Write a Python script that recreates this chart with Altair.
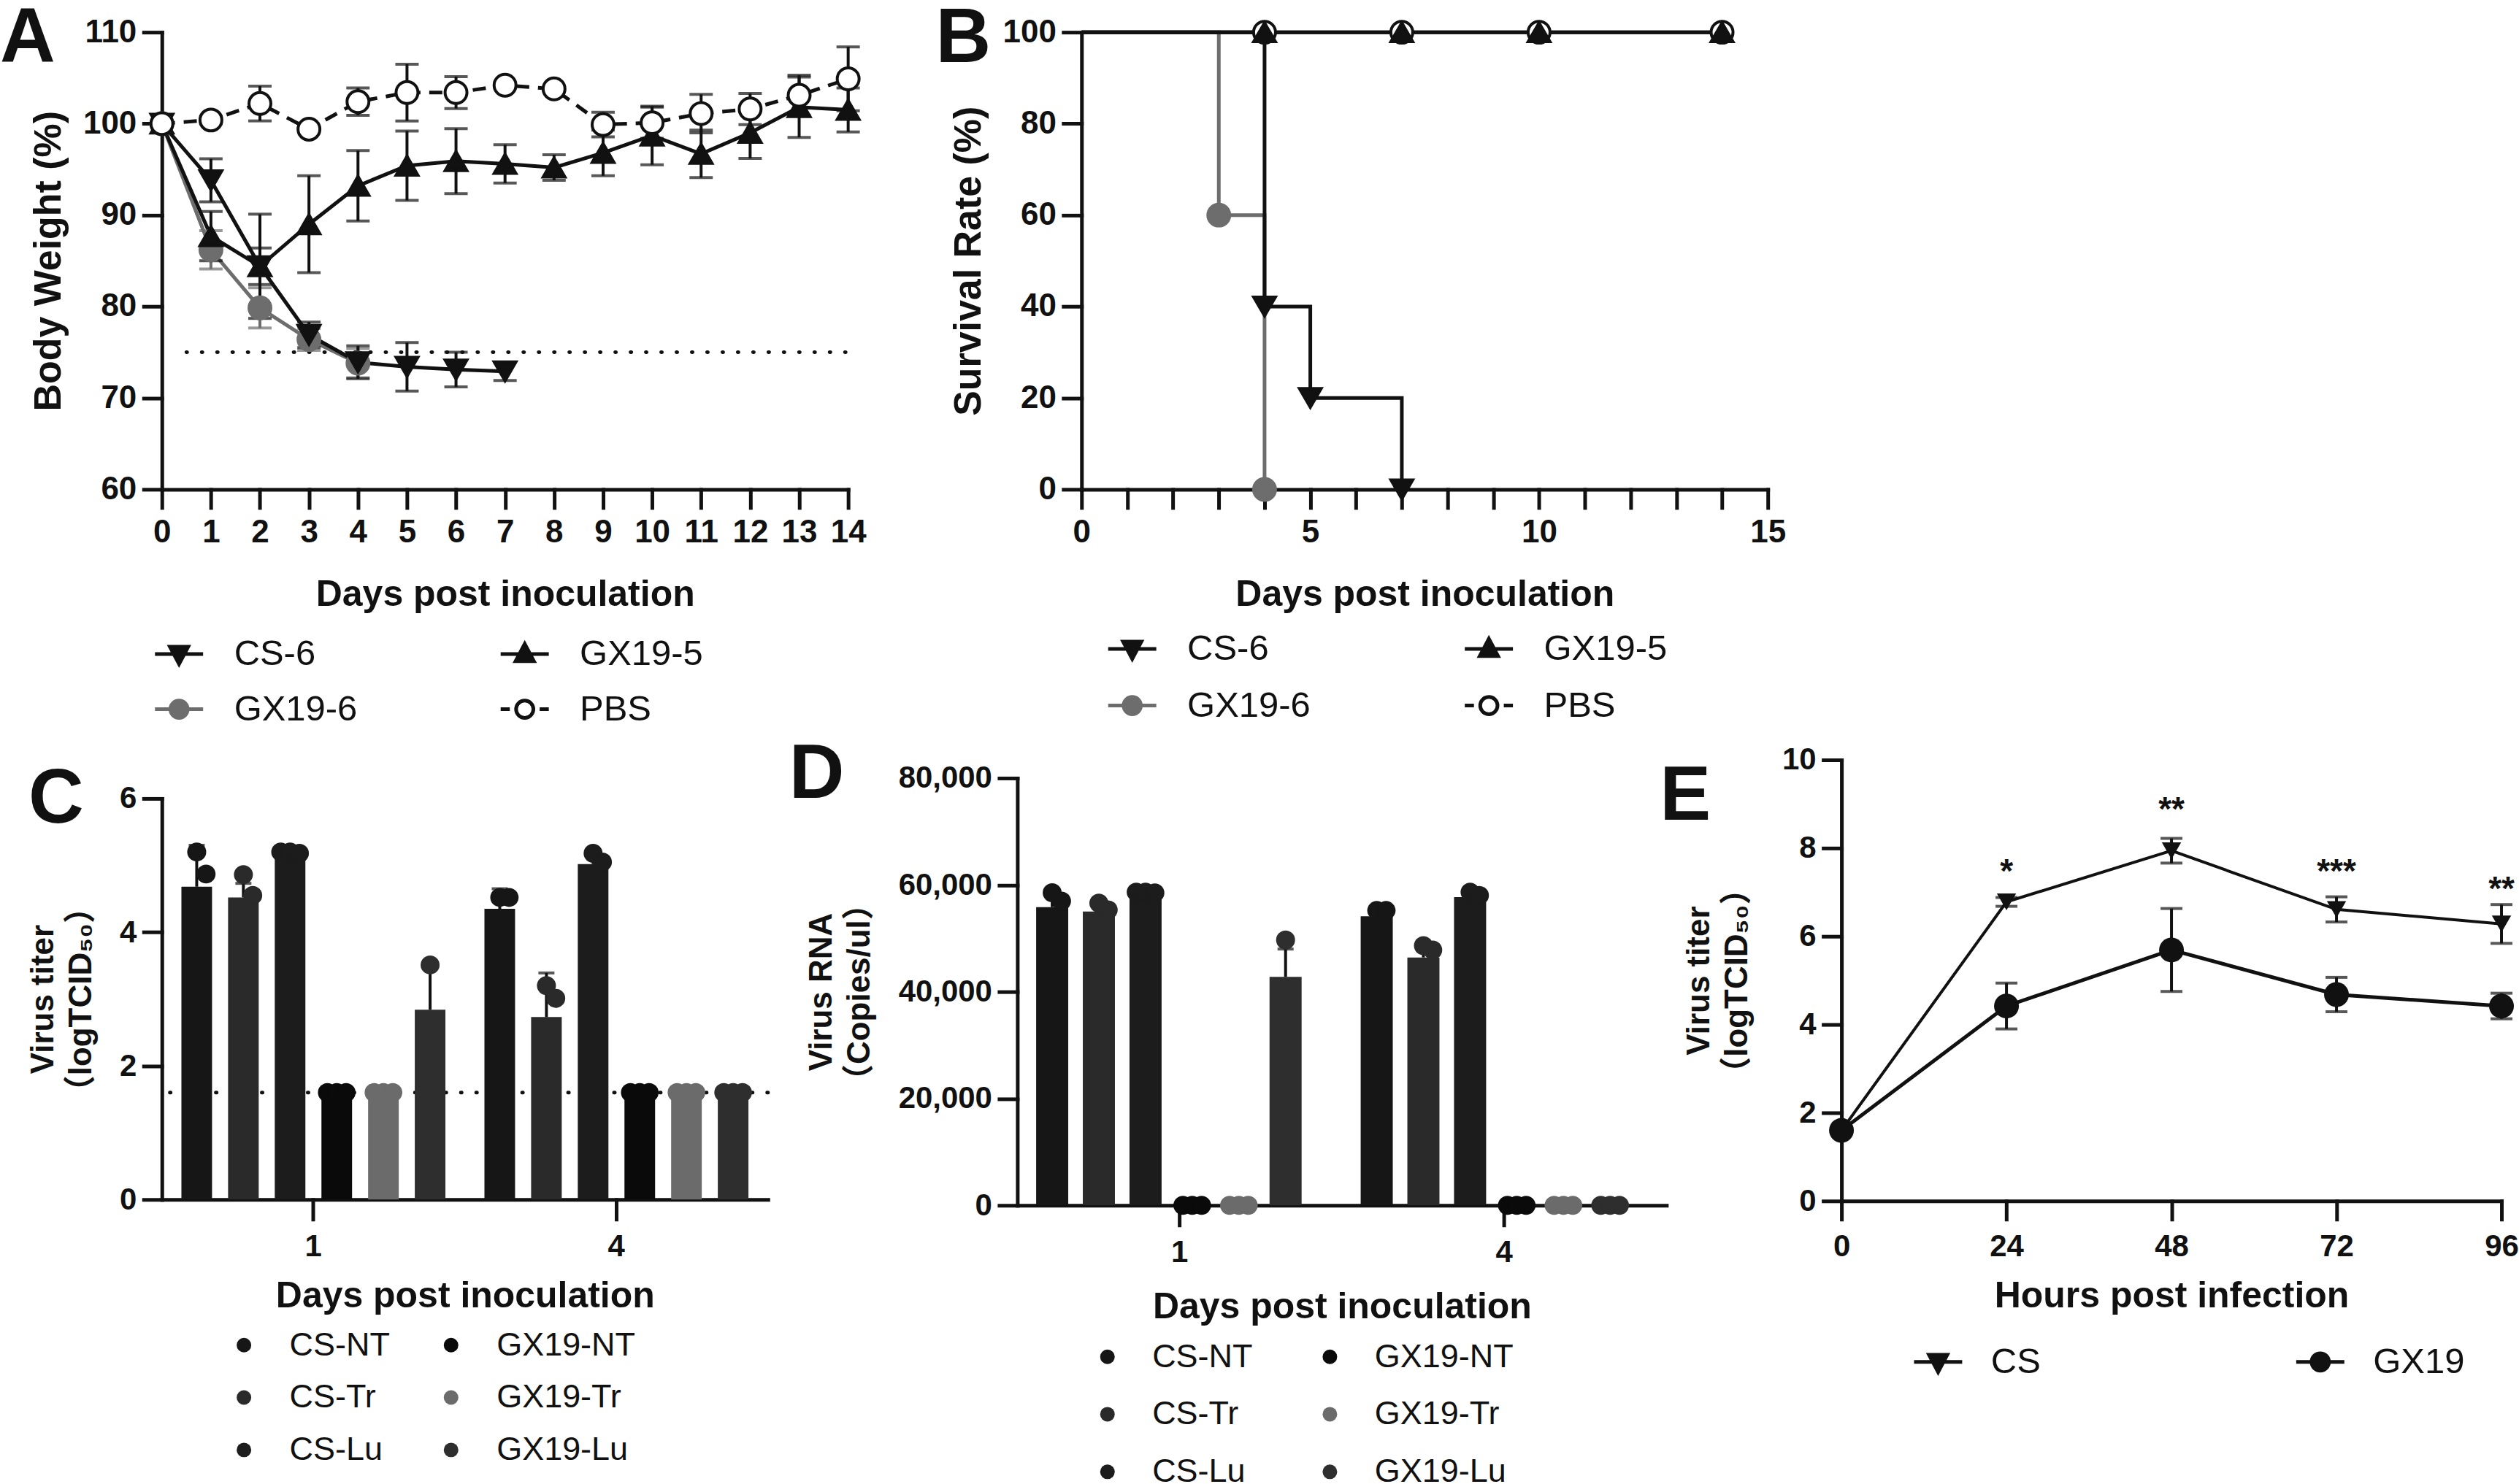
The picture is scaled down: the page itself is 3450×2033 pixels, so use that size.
import altair as alt
import pandas as pd

INK = "#111111"
GREY = "#6d6d6d"
FONT = "Liberation Sans"
TITLE_FONT = "Liberation Sans, Noto Sans CJK SC, DejaVu Sans"

# ---------------- A: body weight (% of day 0), mean and SD ----------------
CS6_WEIGHT = [100, 93.8, 84.4, 76.9, 73.9, 73.4, 73.1, 72.9]
CS6_WEIGHT_SD = [0, 2.35, 2.0, 1.4, 1.8, 2.65, 1.9, 1.0]
GX196_WEIGHT = [100, 86.2, 79.85, 76.4, 73.8]
GX196_WEIGHT_SD = [0, 2.1, 2.2, 1.2, 1.6]
GX195_WEIGHT = [100, 87.7, 84.4, 89.0, 93.2, 95.4, 95.9, 95.6, 95.2, 96.8, 98.7, 96.7, 99.0, 101.8, 101.5]
GX195_WEIGHT_SD = [0, 2.7, 5.7, 5.3, 3.85, 3.8, 3.55, 2.1, 1.4, 2.5, 3.2, 2.6, 2.8, 3.3, 2.4]
PBS_WEIGHT = [100, 100.4, 102.2, 99.4, 102.4, 103.4, 103.4, 104.2, 103.8, 99.9, 100.1, 101.1, 101.6, 103.1, 104.9]
PBS_WEIGHT_SD = [0, 0.4, 1.9, 0.3, 1.5, 3.1, 1.75, 0.3, 0.3, 1.35, 1.7, 2.1, 1.7, 2.2, 3.5]
WEIGHT_CUTOFF = 75
CUTOFF_DAYS = [0.5, 14]

# ---------------- B: survival (Kaplan-Meier steps) ----------------
CS6_SURV_DAYS = [0, 4, 5, 7]
CS6_SURV = [100, 40, 20, 0]
GX196_SURV_DAYS = [0, 3, 4]
GX196_SURV = [100, 60, 0]
GX195_SURV_DAYS = [0, 4, 7, 10, 14]
GX195_SURV = [100, 100, 100, 100, 100]
PBS_SURV_DAYS = [0, 4, 7, 10, 14]
PBS_SURV = [100, 100, 100, 100, 100]

SERIES = ["CS-6", "GX19-6", "GX19-5", "PBS"]
LEGEND_ORDER = ["CS-6", "GX19-5", "GX19-6", "PBS"]

# ---------------- C / D: tissue titres and RNA ----------------
TISSUE_DAYS = ["1", "4"]
TISSUE_GROUPS = ["CS-NT", "CS-Tr", "CS-Lu", "GX19-NT", "GX19-Tr", "GX19-Lu"]
TISSUE_LEGEND = ["CS-NT", "GX19-NT", "CS-Tr", "GX19-Tr", "CS-Lu", "GX19-Lu"]
TISSUE_COLORS = {"CS-NT": "#161616", "CS-Tr": "#2a2a2a", "CS-Lu": "#1c1c1c",
                 "GX19-NT": "#0a0a0a", "GX19-Tr": "#6b6b6b", "GX19-Lu": "#2e2e2e"}

TITER_MEAN = [[4.68, 4.52, 5.14, 1.6, 1.6, 2.84], [4.35, 2.73, 5.02, 1.6, 1.6, 1.6]]
TITER_SD = [[0.62, 0.21, 0.06, 0, 0, 0.62], [0.30, 0.66, 0.14, 0, 0, 0]]
TITER_POINTS = [
    [[5.20, 4.87], [4.86, 4.55], [5.20, 5.20, 5.18], [1.6, 1.6, 1.6], [1.6, 1.6, 1.6], [3.51]],
    [[4.52, 4.52], [3.20, 3.01], [5.18, 5.05], [1.6, 1.6, 1.6], [1.6, 1.6, 1.6], [1.6, 1.6, 1.6]],
]
TITER_LIMIT = 1.6

RNA_MEAN = [[55840, 55020, 58340, 0, 0, 42790], [54140, 46420, 57720, 0, 0, 0]]
RNA_SD = [[2800, 1760, 300, 0, 0, 5200], [1200, 2200, 900, 0, 0, 0]]
RNA_POINTS = [
    [[58530, 56960], [56590, 55330], [58650, 58650, 58500], [0, 0, 0], [0, 0, 0], [49690]],
    [[55210, 55210], [48620, 47800], [58650, 58030], [0, 0, 0], [0, 0, 0], [0, 0, 0]],
]

# ---------------- E: growth curve in cells ----------------
HOURS = [0, 24, 48, 72, 96]
CS_TITER = [1.6, 6.78, 7.94, 6.61, 6.28]
CS_TITER_SD = [0, 0.1, 0.28, 0.285, 0.44]
GX19_TITER = [1.6, 4.42, 5.69, 4.68, 4.42]
GX19_TITER_SD = [0, 0.52, 0.94, 0.39, 0.29]
SIG_HOURS = [24, 48, 72, 96]
SIG_TEXT = ["*", "**", "***", "**"]
SIG_Y = [7.65, 9.05, 7.65, 7.25]

# ---------------- styling helpers ----------------
STYLE = {
    "CS-6": dict(color=INK, fill=INK, shape="triangle-down"),
    "GX19-6": dict(color=GREY, fill=GREY, shape="circle"),
    "GX19-5": dict(color=INK, fill=INK, shape="triangle-up"),
    "PBS": dict(color=INK, fill="white", shape="circle", dash=[18, 12]),
}
# legend glyphs: connecting line with the marker on it
LEG_PATH = {
    "CS-6": "M-1,0H1M-0.38,-0.3L0.38,-0.3L0,0.42Z",
    "GX19-5": "M-1,0H1M-0.38,0.3L0.38,0.3L0,-0.42Z",
    "GX19-6": "M-1,0H1M0.36,0A0.36,0.36,0,1,1,-0.36,0A0.36,0.36,0,1,1,0.36,0Z",
    "PBS": "M-1,0H-0.62M0.62,0H1M0.36,0A0.36,0.36,0,1,1,-0.36,0A0.36,0.36,0,1,1,0.36,0Z",
}


def axis_style(**kw):
    base = dict(domainColor=INK, domainWidth=5, domainCap="square", tickColor=INK, tickWidth=5,
                tickSize=25, tickCap="square", labelFont=FONT, labelFontWeight="bold",
                labelColor=INK, titleFont=TITLE_FONT, titleFontWeight="bold", titleColor=INK,
                grid=False, labelLimit=400, labelFlush=False, labelOverlap=False)
    base.update(kw)
    return alt.Axis(**base)


def letter(ch, dx, dy, opacity=1):
    return alt.Chart(pd.DataFrame({"panel": [ch]})).mark_text(
        align="left", baseline="top", font=FONT, fontWeight="bold", fontSize=105, color=INK,
        opacity=opacity
    ).encode(text="panel:N", x=alt.value(dx), y=alt.value(dy))


def line_legend(x_enc, y_enc, df, order, paths, fills, strokes, **pos):
    leg = alt.Legend(title=None, orient="none", direction="horizontal", columns=2,
                     symbolSize=4356, symbolStrokeWidth=5, symbolOpacity=1, symbolOffset=0,
                     labelFont=FONT, labelFontSize=49, labelColor=INK, labelLimit=400,
                     padding=0, **pos)
    return alt.Chart(df).transform_filter("false").mark_point(
        filled=True, opacity=1, strokeWidth=5
    ).encode(
        x=x_enc, y=y_enc,
        shape=alt.Shape("series:N", scale=alt.Scale(domain=order, range=paths), legend=leg),
        fill=alt.Fill("series:N", scale=alt.Scale(domain=order, range=fills), legend=leg),
        stroke=alt.Stroke("series:N", scale=alt.Scale(domain=order, range=strokes), legend=leg),
    )


def mean_sd_frame(names, means, sds, xname):
    rows = []
    for name, m_list, s_list in zip(names, means, sds):
        for i, (m, s) in enumerate(zip(m_list, s_list)):
            rows.append({"series": name, xname: i, "mean": m, "lo": m - s, "hi": m + s, "sd": s})
    return pd.DataFrame(rows)


# ======================= Panel A =======================
weight = mean_sd_frame(
    SERIES,
    [CS6_WEIGHT, GX196_WEIGHT, GX195_WEIGHT, PBS_WEIGHT],
    [CS6_WEIGHT_SD, GX196_WEIGHT_SD, GX195_WEIGHT_SD, PBS_WEIGHT_SD],
    "day",
)
A_XSCALE = alt.Scale(domain=[0, 14], nice=False, zero=False)
A_YSCALE = alt.Scale(domain=[60, 110], nice=False, zero=False)
A_XAXIS = axis_style(values=list(range(15)), labelFontSize=44, labelPadding=12,
                     title="Days post inoculation", titleFontSize=50, titlePadding=38)
A_YAXIS = axis_style(values=[60, 70, 80, 90, 100, 110], labelFontSize=44, labelPadding=10,
                     title="Body Weight (%)", titleFontSize=52, titlePadding=20)


def ax(field):
    return alt.X(field, scale=A_XSCALE, axis=A_XAXIS)


def ay(field):
    return alt.Y(field, scale=A_YSCALE, axis=A_YAXIS)


cutoff = alt.Chart(pd.DataFrame({"d0": [CUTOFF_DAYS[0]], "d1": [CUTOFF_DAYS[1]], "w": [WEIGHT_CUTOFF]})).mark_rule(
    color=INK, strokeWidth=5, strokeDash=[1, 20], strokeCap="round"
).encode(x=ax("d0:Q"), x2="d1:Q", y=ay("w:Q"))

a_lines, a_errs, a_pts = [], [], []
for name in ["GX19-6", "CS-6", "GX19-5", "PBS"]:
    st = STYLE[name]
    base = alt.Chart(weight).transform_filter(alt.datum.series == name)
    kw = dict(color=st["color"], strokeWidth=5)
    if "dash" in st:
        kw["strokeDash"] = st["dash"]
    a_lines.append(base.mark_line(**kw).encode(x=ax("day:Q"), y=ay("mean:Q")))
    err = base.transform_filter(alt.datum.sd > 0)
    a_errs.append(err.mark_rule(color=st["color"], strokeWidth=4).encode(
        x=ax("day:Q"), y=ay("lo:Q"), y2="hi:Q"))
    for f in ["lo", "hi"]:
        a_errs.append(err.mark_tick(orient="horizontal", size=32, thickness=4, color=st["color"]).encode(
            x=ax("day:Q"), y=ay(f"{f}:Q")))
    a_pts.append(base.mark_point(shape=st["shape"], filled=True, fill=st["fill"], stroke=st["color"],
                                 strokeWidth=4, opacity=1, size=900).encode(x=ax("day:Q"), y=ay("mean:Q")))

legend_a = line_legend(
    ax("day:Q"), ay("mean:Q"), weight, LEGEND_ORDER,
    [LEG_PATH[s] for s in LEGEND_ORDER],
    [STYLE[s]["fill"] for s in LEGEND_ORDER],
    [STYLE[s]["color"] for s in LEGEND_ORDER],
    legendX=-12, legendY=817, labelOffset=40, columnPadding=186, rowPadding=15,
)

panel_a = alt.layer(cutoff, *a_lines, *a_errs, *a_pts, legend_a, letter("A", -222, -42)).properties(
    width=941, height=627)

# ======================= Panel B =======================
surv_rows = []
for name, days, vals in zip(SERIES, [CS6_SURV_DAYS, GX196_SURV_DAYS, GX195_SURV_DAYS, PBS_SURV_DAYS],
                            [CS6_SURV, GX196_SURV, GX195_SURV, PBS_SURV]):
    for d, v in zip(days, vals):
        surv_rows.append({"series": name, "day": d, "surv": v})
survival = pd.DataFrame(surv_rows)

B_XSCALE = alt.Scale(domain=[0, 15], nice=False, zero=False)
B_YSCALE = alt.Scale(domain=[0, 100], nice=False)
B_XAXIS = axis_style(values=list(range(16)), labelExpr="datum.value % 5 === 0 ? datum.label : ''",
                     labelFontSize=44, labelPadding=12, title="Days post inoculation",
                     titleFontSize=50, titlePadding=38)
B_YAXIS = axis_style(values=[0, 20, 40, 60, 80, 100], labelFontSize=44, labelPadding=10,
                     title="Survival Rate (%)", titleFontSize=52, titlePadding=20)
bx = alt.X("day:Q", scale=B_XSCALE, axis=B_XAXIS)
by = alt.Y("surv:Q", scale=B_YSCALE, axis=B_YAXIS)

b_lines, b_pts = [], []
for name in ["GX19-6", "CS-6", "GX19-5", "PBS"]:
    st = STYLE[name]
    base = alt.Chart(survival).transform_filter(alt.datum.series == name)
    b_lines.append(base.mark_line(color=st["color"], strokeWidth=5, interpolate="step-after").encode(x=bx, y=by))
for name in ["GX19-6", "CS-6", "PBS", "GX19-5"]:
    st = STYLE[name]
    base = alt.Chart(survival).transform_filter(alt.datum.series == name).transform_filter(alt.datum.day > 0)
    b_pts.append(base.mark_point(shape=st["shape"], filled=True, fill=st["fill"], stroke=st["color"],
                                 strokeWidth=4, opacity=1, size=900).encode(x=bx, y=by))

legend_b = line_legend(
    bx, by, survival, LEGEND_ORDER,
    [LEG_PATH[s] for s in LEGEND_ORDER],
    [STYLE[s]["fill"] for s in LEGEND_ORDER],
    [STYLE[s]["color"] for s in LEGEND_ORDER],
    legendX=34, legendY=810, labelOffset=40, columnPadding=201, rowPadding=17,
)
panel_b = alt.layer(*b_lines, *b_pts, legend_b, letter("B", -200, -42)).properties(width=941, height=627)


# ======================= Panels C and D =======================
# five slots per group (bar centred on slot 1, replicate dots on 0/1/2), plus an end slot each side
SLOTS = ["<"] + [f"{g}|{k}" for g in TISSUE_GROUPS for k in ["a", "0", "1", "2", "b"]] + [">"]


def tissue_tables(means, sds, points):
    bars, pts = [], []
    for day, m_row, s_row, p_row in zip(TISSUE_DAYS, means, sds, points):
        for g, m, s, vals in zip(TISSUE_GROUPS, m_row, s_row, p_row):
            bars.append({"day": day, "group": g, "slot": f"{g}|1", "mean": m, "top": m + s, "sd": s})
            spots = {1: ["1"], 2: ["1", "2"], 3: ["0", "1", "2"]}[len(vals)]
            for v, k in zip(vals, spots):
                pts.append({"day": day, "group": g, "slot": f"{g}|{k}", "value": v})
    return pd.DataFrame(bars), pd.DataFrame(pts)


def tissue_panel(means, sds, points, width, height, y_top, ydomain, yvalues, ytitle, yfmt, outer, bar_w,
                 title_pad, y_title_pad, leg_pos, limit=None, extra=()):
    bars, pts = tissue_tables(means, sds, points)
    xs = alt.X("day:N", sort=TISSUE_DAYS, scale=alt.Scale(domain=TISSUE_DAYS, paddingInner=0, paddingOuter=0),
               axis=axis_style(labelAngle=0, labelFontSize=42, labelPadding=17, tickSize=27,
                               title="Days post inoculation", titleFontSize=50, titlePadding=title_pad))
    xo = alt.XOffset("slot:N", scale=alt.Scale(domain=SLOTS, paddingInner=0, paddingOuter=outer))
    yax = dict(values=yvalues, labelFontSize=42, labelPadding=10, title=ytitle, titleFontSize=44,
               titleLineHeight=52, titlePadding=y_title_pad)
    if yfmt:
        yax["format"] = yfmt
    # the value axis occupies the lower part of the view so that all baselines line up
    yscale = alt.Scale(domain=ydomain, nice=False, range=[height, y_top])

    def yy(field):
        return alt.Y(field, scale=yscale, axis=axis_style(**yax))

    leg = alt.Legend(title=None, orient="none", direction="horizontal", columns=2, symbolType="circle",
                     symbolSize=400, symbolOffset=0, labelFont=FONT, labelFontSize=45, labelColor=INK,
                     labelLimit=400, padding=0, **leg_pos)
    col = alt.Color("group:N", scale=alt.Scale(domain=TISSUE_LEGEND, range=[TISSUE_COLORS[g] for g in TISSUE_LEGEND]),
                    legend=leg)
    layers = []
    if limit is not None:
        layers.append(alt.Chart(pd.DataFrame({"lod": [limit]})).mark_rule(
            color=INK, strokeWidth=5, strokeDash=[1, 20], strokeCap="round").encode(y=yy("lod:Q")))
    layers.append(alt.Chart(bars).mark_bar(width=bar_w).encode(x=xs, xOffset=xo, y=yy("mean:Q"), color=col))
    errs = alt.Chart(bars).transform_filter(alt.datum.sd > 0)
    layers.append(errs.mark_rule(color=INK, strokeWidth=4).encode(x=xs, xOffset=xo, y=yy("mean:Q"), y2="top:Q"))
    layers.append(errs.mark_tick(orient="horizontal", size=22, thickness=4, color=INK).encode(
        x=xs, xOffset=xo, y=yy("top:Q")))
    layers.append(alt.Chart(pts).mark_circle(size=676, opacity=1).encode(x=xs, xOffset=xo, y=yy("value:Q"), color=col))
    layers.extend(extra)
    return alt.layer(*layers).properties(width=width, height=height)


panel_c = tissue_panel(TITER_MEAN, TITER_SD, TITER_POINTS, 831, 603, 53, [0, 6], [0, 2, 4, 6],
                       ["Virus titer", "（logTCID₅₀）"], None, 0.23, 42, 22, 30,
                       dict(legendX=90, legendY=780, labelOffset=40, columnPadding=61, rowPadding=26),
                       limit=TITER_LIMIT,
                       extra=[letter("C", -183, 3), letter(".", -216, 0, opacity=0)])
panel_d = tissue_panel(RNA_MEAN, RNA_SD, RNA_POINTS, 890, 611, 25, [0, 80000], [0, 20000, 40000, 60000, 80000],
                       ["Virus RNA", "（Copies/ul）"], ",d", 0.6, 44, 29, 31,
                       dict(legendX=101, legendY=796, labelOffset=39, columnPadding=83, rowPadding=33),
                       extra=[letter("D", -313, -31)])

# ======================= Panel E =======================
growth = mean_sd_frame(["CS", "GX19"], [CS_TITER, GX19_TITER], [CS_TITER_SD, GX19_TITER_SD], "idx")
growth["hour"] = growth["idx"].map(lambda i: HOURS[i])
E_XSCALE = alt.Scale(domain=[0, 96], nice=False, zero=False)
E_YSCALE = alt.Scale(domain=[0, 10], nice=False)
E_XAXIS = axis_style(values=HOURS, labelFontSize=42, labelPadding=17, tickSize=25,
                     title="Hours post infection", titleFontSize=50, titlePadding=22)
E_YAXIS = axis_style(values=[0, 2, 4, 6, 8, 10], labelFontSize=42, labelPadding=10,
                     title=["Virus titer", "（logTCID₅₀）"], titleFontSize=44, titleLineHeight=52,
                     titlePadding=39)


def ex(field):
    return alt.X(field, scale=E_XSCALE, axis=E_XAXIS)


def ey(field):
    return alt.Y(field, scale=E_YSCALE, axis=E_YAXIS)


E_STYLE = {"CS": dict(shape="triangle-down", size=700), "GX19": dict(shape="circle", size=1156)}
E_LINE_W = {"CS": 4, "GX19": 5}
e_layers = []
for name in ["CS", "GX19"]:
    base = alt.Chart(growth).transform_filter(alt.datum.series == name)
    e_layers.append(base.mark_line(color=INK, strokeWidth=E_LINE_W[name]).encode(x=ex("hour:Q"), y=ey("mean:Q")))
for name in ["CS", "GX19"]:
    err = alt.Chart(growth).transform_filter(alt.datum.series == name).transform_filter(alt.datum.sd > 0)
    e_layers.append(err.mark_rule(color=INK, strokeWidth=4).encode(x=ex("hour:Q"), y=ey("lo:Q"), y2="hi:Q"))
    for f in ["lo", "hi"]:
        e_layers.append(err.mark_tick(orient="horizontal", size=30, thickness=4, color=INK).encode(
            x=ex("hour:Q"), y=ey(f"{f}:Q")))
for name in ["CS", "GX19"]:
    base = alt.Chart(growth).transform_filter(alt.datum.series == name)
    e_layers.append(base.mark_point(filled=True, opacity=1, color=INK, **E_STYLE[name]).encode(
        x=ex("hour:Q"), y=ey("mean:Q")))

sig = pd.DataFrame({"hour": SIG_HOURS, "y": SIG_Y, "label": SIG_TEXT})
e_layers.append(alt.Chart(sig).mark_text(font=FONT, fontWeight="bold", fontSize=46, color=INK,
                                         baseline="middle", dy=12).encode(
    x=ex("hour:Q"), y=ey("y:Q"), text="label:N"))

E_ORDER = ["CS", "GX19"]
legend_e = line_legend(
    ex("hour:Q"), ey("mean:Q"), growth, E_ORDER,
    [LEG_PATH["CS-6"], LEG_PATH["GX19-6"]], [INK, INK], [INK, INK],
    legendX=97, legendY=790, labelOffset=37, columnPadding=339, rowPadding=15,
)
e_layers.append(legend_e)
e_layers.append(letter("E", -249, -1))
panel_e = alt.layer(*e_layers).properties(width=905, height=605)


# ======================= layout =======================
def gap(w):
    return alt.Chart(pd.DataFrame({"s": [0]})).mark_point(opacity=0).properties(width=w, height=1)


INDEP = dict(x="independent", y="independent", color="independent", fill="independent",
             stroke="independent", shape="independent")
LEG_INDEP = dict(color="independent", fill="independent", stroke="independent", shape="independent")

row1 = alt.hconcat(panel_a, panel_b, spacing=320, bounds="flush").resolve_scale(**INDEP).resolve_legend(**LEG_INDEP)
row2 = alt.hconcat(panel_c, gap(342), panel_d, gap(240), panel_e, spacing=0, bounds="flush").resolve_scale(
    **INDEP).resolve_legend(**LEG_INDEP)

chart = alt.vconcat(row1, row2, spacing=12).resolve_scale(**INDEP).resolve_legend(**LEG_INDEP).properties(
    padding=0).configure(font=FONT, background="white").configure_view(stroke=None)

chart.save("out.html", embed_options={"renderer": "svg", "actions": False})
